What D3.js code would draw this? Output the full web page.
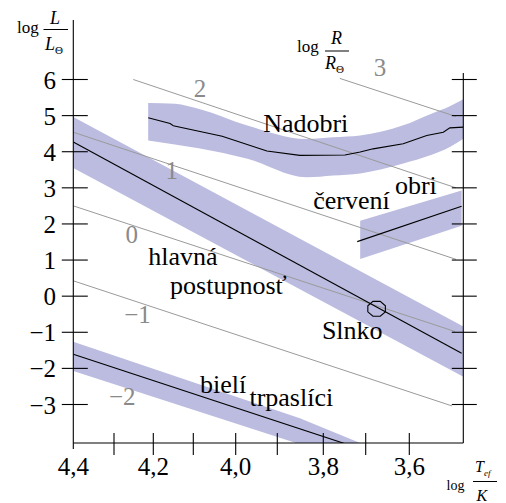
<!DOCTYPE html>
<html><head><meta charset="utf-8">
<script src="https://cdn.jsdelivr.net/npm/d3@7"></script>
<style>
body{margin:0;background:#fff}
svg{display:block}
</style>
</head><body>
<svg id="c" width="506" height="503"></svg>
<script>
// ---- data ----
const xTickValues = [4.4, 4.3, 4.2, 4.1, 4.0, 3.9, 3.8, 3.7, 3.6];
const xMajorValues = [4.4, 4.2, 4.0, 3.8, 3.6];
const xMajorLabels = ["4,4", "4,2", "4,0", "3,8", "3,6"];
const yTickValues = [6, 5, 4, 3, 2, 1, 0, -1, -2, -3];
const yTickLabels = ["6", "5", "4", "3", "2", "1", "0", "−1", "−2", "−3"];

// bands: [logT, lower logL, upper logL]
const mainSeqBand = [[4.4, 3.55, 4.96], [3.476, -2.23, -0.84]];
const mainSeqLine = [[4.4, 4.27], [3.48, -1.58]];
const dwarfBand = [[4.4, -2.075, -1.26], [3.851, -4.1, -3.38], [3.706, -4.6, -4.1]];
const dwarfLine = [[4.4, -1.61], [3.745, -4.1]];
const giantBand = [[3.713, 1.03, 2.09], [3.48, 1.95, 2.925]];
const giantLine = [[3.72, 1.51], [3.48, 2.49]];
const superBand = [
  [4.213, 4.31, 5.35], [4.146, 4.20, 5.33], [4.084, 4.09, 5.175], [3.974, 3.81, 4.73],
  [3.836, 3.29, 4.35], [3.777, 3.34, 4.40], [3.713, 3.40, 4.45], [3.614, 3.675, 4.73],
  [3.552, 3.90, 5.04], [3.507, 4.13, 5.26], [3.476, 4.36, 5.45]
];
const superLine = [
  [4.213, 4.94], [4.158, 4.78], [4.150, 4.72], [4.032, 4.43], [3.925, 4.02], [3.851, 3.90],
  [3.749, 3.91], [3.713, 3.99], [3.683, 4.08], [3.614, 4.22], [3.560, 4.45], [3.522, 4.54],
  [3.507, 4.66], [3.476, 4.68]
];
// lines of constant radius (log R/Rsun)
const radius3 = [[3.761, 6.03], [3.493, 4.976]];
const radius2 = [[4.251, 6.0], [3.493, 3.0]];
const radius1 = [[4.4, 4.54], [3.493, 1.02]];
const radius0 = [[4.4, 2.5], [3.495, -0.98]];
const radiusM1 = [[4.4, 0.425], [3.502, -3.04]];
const radiusLabels = [
  ["3", 3.667, 6.35], ["2", 4.084, 5.76], ["1", 4.154, 3.48],
  ["0", 4.255, 1.72], ["−1", 4.240, -0.49], ["−2", 4.279, -2.77]
];
const sun = [3.675, -0.35];
const regionLabels = [
  ["Nadobri", 3.934, 4.54], ["hlavná", 4.213, 0.87], ["postupnosť", 4.158, 0.064],
  ["Slnko", 3.803, -1.19], ["červení", 3.822, 2.42], ["obri", 3.633, 2.83],
  ["bielí", 4.084, -2.69], ["trpaslíci", 3.967, -3.05]
];

// ---- scales ----
const x = d3.scaleLinear()
  .domain(xTickValues)
  .range([73.3, 114, 153.3, 193.3, 235.7, 277.3, 323.3, 365.7, 409.3]);
const xRight = 463.3;
const y = d3.scaleLinear().domain([-3, 6]).range([404.5, 79.5]);
const yBottom = 443, yTop = 20;

const svg = d3.select("#c");
svg.append("rect").attr("width", 506).attr("height", 503).attr("fill", "#fff");
svg.append("clipPath").attr("id", "plot").append("rect")
  .attr("x", x(4.4)).attr("y", yTop).attr("width", xRight - x(4.4)).attr("height", yBottom - yTop);

const g = svg.append("g").attr("clip-path", "url(#plot)");
const bandFill = "#bbbcdf";
const area = d3.area().x(d => x(d[0])).y0(d => y(d[1])).y1(d => y(d[2]));
const line = d3.line().x(d => x(d[0])).y(d => y(d[1]));

[mainSeqBand, dwarfBand, giantBand].forEach(b =>
  g.append("path").attr("d", area(b)).attr("fill", bandFill));
g.append("path").attr("d", area.curve(d3.curveMonotoneX)(superBand)).attr("fill", bandFill);

// radius lines
[radius3, radius2, radius1, radius0, radiusM1].forEach(r =>
  g.append("path").attr("d", line(r)).attr("fill", "none").attr("stroke", "#9a9a9a").attr("stroke-width", 1));

// sequence lines
[mainSeqLine, dwarfLine, giantLine, superLine].forEach(l =>
  g.append("path").attr("d", line(l)).attr("fill", "none").attr("stroke", "#000").attr("stroke-width", 1.1));

// sun symbol (octagon)
const oct = d3.range(8).map(i => {
  const a = Math.PI / 8 + i * Math.PI / 4;
  return [x(sun[0]) + 9.5 * Math.cos(a), y(sun[1]) + 8 * Math.sin(a)];
});
svg.append("path").attr("d", d3.line()(oct) + "Z").attr("fill", "none").attr("stroke", "#000").attr("stroke-width", 1.1);

// radius labels
svg.selectAll("text.rl").data(radiusLabels).join("text").attr("class", "rl")
  .attr("x", d => x(d[1])).attr("y", d => y(d[2])).attr("dy", "0.35em")
  .attr("text-anchor", "middle").attr("font-size", 25).attr("fill", "#8a8a8a").text(d => d[0]);

// region labels
svg.selectAll("text.reg").data(regionLabels).join("text").attr("class", "reg")
  .attr("x", d => x(d[1])).attr("y", d => y(d[2]))
  .attr("font-size", 26).attr("fill", "#000").text(d => d[0]);

// ---- axes ----
const ax = svg.append("g").attr("stroke", "#000").attr("stroke-width", 1.1);
ax.append("line").attr("x1", x(4.4)).attr("x2", x(4.4)).attr("y1", yTop).attr("y2", yBottom + 6);
ax.append("line").attr("x1", x(4.4)).attr("x2", xRight).attr("y1", yBottom).attr("y2", yBottom);
ax.append("line").attr("x1", xRight).attr("x2", xRight).attr("y1", 73).attr("y2", yBottom);
yTickValues.forEach(v => {
  ax.append("line").attr("x1", x(4.4) - 11.5).attr("x2", x(4.4) + 14.5).attr("y1", y(v)).attr("y2", y(v));
  ax.append("line").attr("x1", xRight - 11.5).attr("x2", xRight + 13.5).attr("y1", y(v)).attr("y2", y(v));
});
xTickValues.slice(1).forEach(v => {
  ax.append("line").attr("x1", x(v)).attr("x2", x(v)).attr("y1", yBottom - 10).attr("y2", yBottom + 12);
});

svg.selectAll("text.yt").data(yTickValues).join("text").attr("class", "yt")
  .attr("x", 56).attr("y", d => y(d)).attr("dy", "0.36em").attr("text-anchor", "end")
  .attr("font-size", 25).text((d, i) => yTickLabels[i]);
svg.selectAll("text.xt").data(xMajorValues).join("text").attr("class", "xt")
  .attr("x", d => x(d)).attr("y", 475).attr("text-anchor", "middle")
  .attr("font-size", 25).text((d, i) => xMajorLabels[i]);

// axis titles
function frac(logX, logY, logSize, num, den, numX, numY, barX1, barX2, barY, denX, denY, sub, subSize, size) {
  const t = svg.append("g");
  t.append("text").attr("x", logX).attr("y", logY).attr("font-size", logSize).text("log");
  t.append("text").attr("x", numX).attr("y", numY).attr("font-size", size).attr("font-style", "italic").text(num);
  t.append("line").attr("x1", barX1).attr("x2", barX2).attr("y1", barY).attr("y2", barY).attr("stroke", "#000").attr("stroke-width", 1);
  const d = t.append("text").attr("x", denX).attr("y", denY).attr("font-size", size).attr("font-style", "italic");
  d.append("tspan").text(den);
  if (sub) d.append("tspan").attr("font-size", subSize).attr("font-style", "normal").attr("dy", 4).text(sub);
}
frac(17, 33, 17, "L", "L", 50, 24, 43.5, 68, 29.5, 45, 50, "Θ", 11, 18);
frac(297, 52, 17, "R", "R", 331, 44, 325, 349, 51, 325, 69, "Θ", 11, 18);
// temperature title
const tt = svg.append("g");
tt.append("text").attr("x", 446.5).attr("y", 490).attr("font-size", 14).text("log");
const tn = tt.append("text").attr("x", 475).attr("y", 472).attr("font-size", 16).attr("font-style", "italic");
tn.append("tspan").text("T");
tn.append("tspan").attr("font-size", 9).attr("dy", 4).text("ef");
tt.append("line").attr("x1", 473).attr("x2", 497).attr("y1", 481.5).attr("y2", 481.5).attr("stroke", "#000").attr("stroke-width", 1);
tt.append("text").attr("x", 476.5).attr("y", 501).attr("font-size", 16).attr("font-style", "italic").text("K");

svg.selectAll("text").style("font-family", '"Liberation Serif"');
</script>
</body></html>
